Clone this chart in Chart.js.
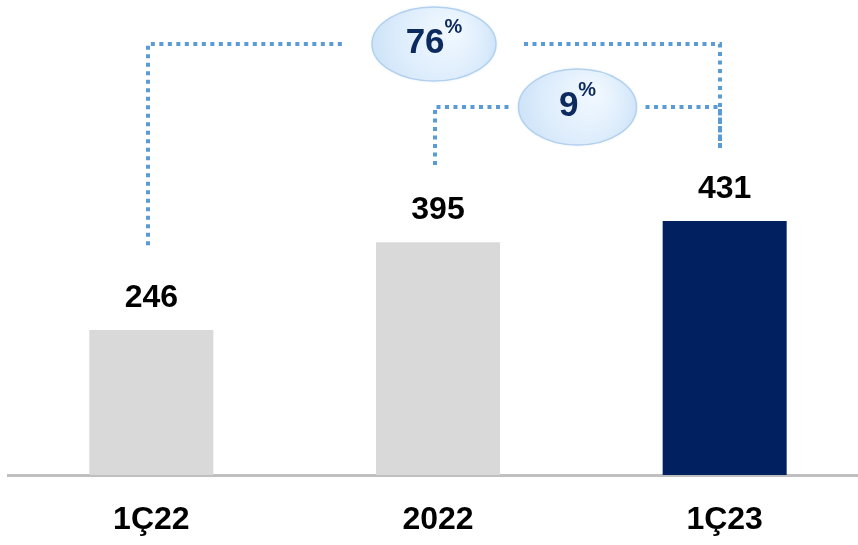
<!DOCTYPE html>
<html>
<head>
<meta charset="utf-8">
<script src="https://cdn.jsdelivr.net/npm/chart.js@4.4.1/dist/chart.umd.min.js"></script>
<style>
  html, body { margin: 0; padding: 0; background: #ffffff; overflow: hidden; }
  #wrap { width: 858px; height: 545px; overflow: hidden; }
</style>
</head>
<body>
<div id="wrap"><canvas id="chart" width="870" height="545"></canvas></div>
<script>
// chart data
const categories = ['1Ç22', '2022', '1Ç23'];
const values = [246, 395, 431];
const barColors = ['#d9d9d9', '#d9d9d9', '#002060'];

// growth brackets: from bar, to bar, label, and levels in value units
const growthFrom = [0, 1];
const growthTo = [2, 2];
const growthLabels = ['76', '9'];
const growthLevel = [731, 624];
const growthLeftEnd = [390, 526];
const growthRightEnd = [555, 555];

const bubbleGap = [90, 68];   // half width of the hole in the line around the bubble
const bubbleR = [[62, 37], [59, 38]];

const font = '"Liberation Sans", Arial, sans-serif';

// value labels above bars
const valueLabels = {
  id: 'valueLabels',
  afterDatasetsDraw(chart) {
    const ctx = chart.ctx;
    const meta = chart.getDatasetMeta(0);
    ctx.save();
    ctx.font = 'bold 32px ' + font;
    ctx.fillStyle = '#000000';
    ctx.textAlign = 'center';
    ctx.textBaseline = 'alphabetic';
    meta.data.forEach((bar, i) => {
      ctx.fillText(String(values[i]), bar.x, bar.y - 23);
    });
    ctx.restore();
  }
};

// dotted brackets with growth bubbles
const growthBrackets = {
  id: 'growthBrackets',
  afterDraw(chart) {
    const ctx = chart.ctx;
    const y = chart.scales.y;
    const meta = chart.getDatasetMeta(0);
    growthLabels.forEach((label, i) => {
      const x1 = Math.round(meta.data[growthFrom[i]].x - 3);
      const x2 = Math.round(meta.data[growthTo[i]].x - 5);
      const yl = Math.round(y.getPixelForValue(growthLevel[i]));
      const y1 = y.getPixelForValue(growthLeftEnd[i]);
      const y2 = y.getPixelForValue(growthRightEnd[i]);
      const cx = (x1 + x2) / 2;
      const gap = bubbleGap[i];

      ctx.save();
      ctx.strokeStyle = '#5b9bd5';
      ctx.lineWidth = 4;
      ctx.setLineDash([4, 4.5]);
      ctx.beginPath();
      ctx.moveTo(x1, y1);
      ctx.lineTo(x1, yl);
      ctx.lineTo(cx - gap, yl);
      ctx.stroke();
      ctx.beginPath();
      ctx.moveTo(cx + gap, yl);
      ctx.lineTo(x2, yl);
      ctx.lineTo(x2, y2);
      ctx.stroke();
      ctx.restore();

      // bubble
      const [rx, ry] = bubbleR[i];
      ctx.save();
      const g = ctx.createRadialGradient(cx + rx * 0.3, yl - ry * 0.4, 2, cx, yl, rx * 1.1);
      g.addColorStop(0, '#f2f9ff');
      g.addColorStop(0.6, '#deedfc');
      g.addColorStop(1, '#c9e1f7');
      ctx.beginPath();
      ctx.ellipse(cx, yl, rx, ry, 0, 0, Math.PI * 2);
      ctx.fillStyle = g;
      ctx.shadowColor = 'rgba(120,170,220,0.3)';
      ctx.shadowBlur = 3;
      ctx.fill();
      ctx.shadowBlur = 0;
      ctx.lineWidth = 1.5;
      ctx.strokeStyle = '#b3d1ef';
      ctx.stroke();

      // text with superscript percent
      ctx.fillStyle = '#0d2a5e';
      ctx.textBaseline = 'alphabetic';
      ctx.textAlign = 'left';
      ctx.font = 'bold 35px ' + font;
      const w1 = ctx.measureText(label).width;
      ctx.font = 'bold 20px ' + font;
      const w2 = ctx.measureText('%').width;
      const start = cx - (w1 + w2) / 2;
      const base = yl + 9;
      ctx.font = 'bold 35px ' + font;
      ctx.fillText(label, start, base);
      ctx.font = 'bold 20px ' + font;
      ctx.fillText('%', start + w1, base - 20);
      ctx.restore();
    });
  }
};

new Chart(document.getElementById('chart'), {
  type: 'bar',
  data: {
    labels: categories,
    datasets: [{
      data: values,
      backgroundColor: barColors,
      borderWidth: 0,
      barPercentage: 0.4326,
      categoryPercentage: 1
    }]
  },
  options: {
    responsive: false,
    animation: false,
    events: [],
    layout: {
      padding: { left: 8, right: 2, top: 0, bottom: 6 }
    },
    plugins: {
      legend: { display: false },
      tooltip: { enabled: false }
    },
    scales: {
      x: {
        grid: { display: false, drawTicks: false },
        border: { display: true, color: '#bfbfbf', width: 3 },
        ticks: {
          color: '#000000',
          padding: 26,
          maxRotation: 0,
          font: { family: font, size: 32, weight: 'bold' }
        },
        afterFit(scale) {
          scale.height = 64;
        }
      },
      y: {
        display: false,
        min: 0,
        max: 806
      }
    }
  },
  plugins: [valueLabels, growthBrackets]
});
</script>
</body>
</html>
